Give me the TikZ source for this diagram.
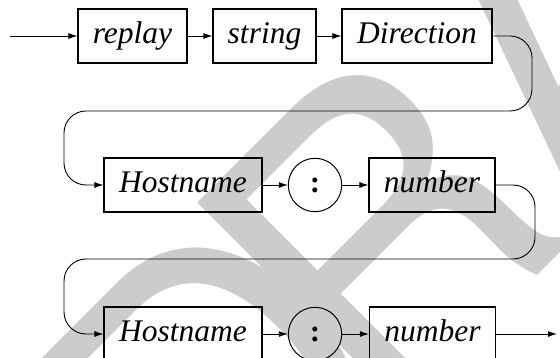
\documentclass[tikz,border=0pt]{standalone}
\usepackage{fontspec}
\setmainfont{Liberation Serif}
\newfontfamily\wmfont{TeX Gyre Heros}
\usetikzlibrary{arrows.meta}
\begin{document}
\begin{tikzpicture}[x=1pt,y=1pt,
  box/.style={draw, line width=1.1pt, minimum height=54pt, inner sep=0pt,
    text height=21.5pt, text depth=6.5pt, font=\fontsize{31.5}{36}\selectfont\itshape},
  circ/.style={draw, circle, line width=1pt, minimum size=53.4pt, inner sep=0pt,
    font=\fontsize{31}{36}\selectfont\bfseries},
  conn/.style={line width=0.9pt, -{Latex[length=9pt,width=6pt]}},
  loopline/.style={conn, rounded corners=22pt},
  wmark/.style={rotate=45, anchor=base west, inner sep=0pt, text=black!20,
    font=\wmfont\fontsize{400}{440}\selectfont}]
\useasboundingbox (0,0) rectangle (560,-358);
\clip (0,0) rectangle (560,-358);
\node[wmark] (wm) at (219.2,-593.8) {D\kern-65pt RAFT};
% row 1
\node[box, minimum width=109pt] (replay) at (132.5,-36) {replay};
\node[box, minimum width=103pt] (string) at (264.5,-36) {string};
\node[box, minimum width=150pt] (dir) at (417,-36) {Direction};
% row 2
\node[box, minimum width=158pt] (host1) at (183,-185) {Hostname};
\node[circ] (col1) at (315,-185) {:};
\node[box, minimum width=126pt] (num1) at (432,-185) {number};
% row 3
\node[box, minimum width=158pt] (host2) at (183,-334) {Hostname};
\node[circ] (col2) at (315,-334) {:};
\node[box, minimum width=126pt] (num2) at (432.5,-334) {number};
\coordinate (start) at (10,-36);
\coordinate (finish) at (557,-334);
% connectors
\draw[conn] (start) -- (replay);
\draw[conn] (replay) -- (string);
\draw[conn] (string) -- (dir);
\draw[loopline] (dir.east) -- (532,-36) -- (532,-111) -- (64,-111) -- (64,-185) -- (host1.west);
\draw[conn] (host1) -- (col1);
\draw[conn] (col1) -- (num1);
\draw[loopline] (num1.east) -- (535,-185) -- (535,-259) -- (64,-259) -- (64,-334) -- (host2.west);
\draw[conn] (host2) -- (col2);
\draw[conn] (col2) -- (num2);
\draw[conn] (num2) -- (finish);
\end{tikzpicture}
\end{document}
